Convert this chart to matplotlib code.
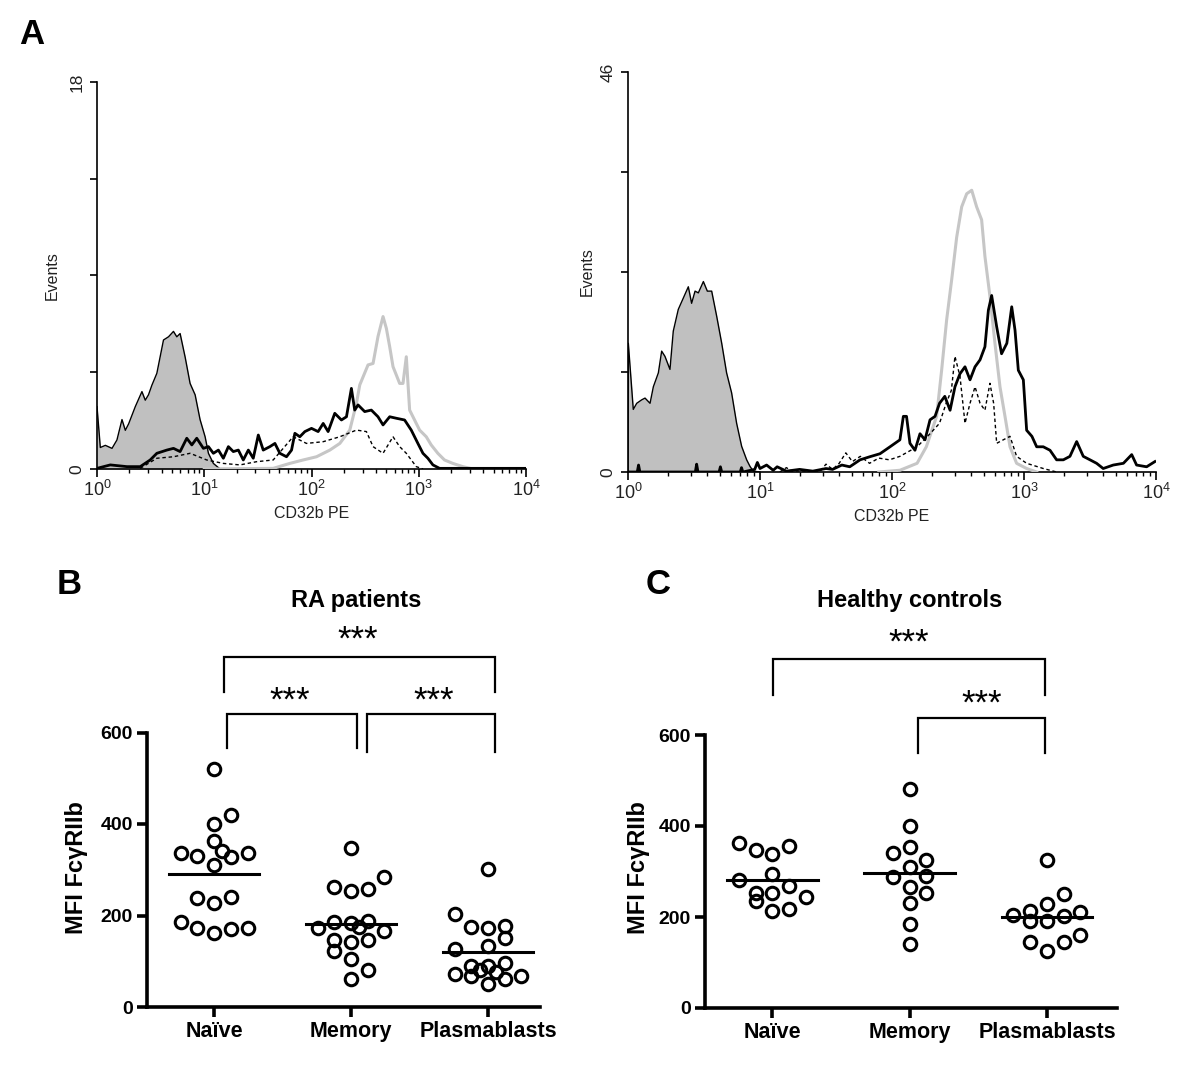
import matplotlib
matplotlib.use('Agg')
import matplotlib.pyplot as plt
import numpy as np

plt.rcParams['font.family'] = ['Liberation Sans', 'DejaVu Sans']
plt.rcParams['mathtext.fontset'] = 'custom'
plt.rcParams['mathtext.rm'] = 'Liberation Sans'

# ---------------- panel A data (x = log10 CD32b PE, y = events) ----------------
# left histogram
la_iso_x = [0.0, 0.031, 0.078, 0.14, 0.186, 0.233, 0.264, 0.295, 0.357, 0.419, 0.45, 0.48, 0.512,
            0.558, 0.62, 0.667, 0.713, 0.744, 0.775, 0.822, 0.868, 0.915, 0.961, 1.008, 1.039,
            1.085, 1.147, 1.2]
la_iso_y = [2.9, 1.0, 1.1, 0.96, 1.35, 2.3, 1.8, 2.1, 2.9, 3.6, 3.2, 3.45, 3.9, 4.45, 6.0, 6.15,
            6.4, 6.15, 6.3, 5.2, 3.98, 3.45, 2.3, 1.5, 0.73, 0.26, 0.0, 0.0]
la_blk_x = [0.0, 0.124, 0.279, 0.403, 0.496, 0.558, 0.651, 0.713, 0.775, 0.837, 0.884, 0.93, 0.992,
            1.039, 1.085, 1.132, 1.178, 1.225, 1.271, 1.318, 1.364, 1.411, 1.457, 1.504, 1.55,
            1.612, 1.659, 1.705, 1.767, 1.814, 1.845, 1.891, 1.938, 2.0, 2.062, 2.109, 2.155,
            2.217, 2.279, 2.326, 2.372, 2.403, 2.434, 2.496, 2.558, 2.62, 2.667, 2.729, 2.791,
            2.868, 2.93, 2.992, 3.039, 3.085, 3.132, 3.194, 4.0]
la_blk_y = [0.03, 0.19, 0.11, 0.11, 0.42, 0.73, 0.88, 0.96, 0.81, 1.43, 1.12, 1.43, 0.96, 1.04,
            0.73, 0.88, 0.5, 1.04, 0.81, 0.88, 0.42, 0.88, 0.5, 1.58, 0.88, 1.04, 1.19, 0.73, 0.57,
            0.88, 1.66, 1.5, 1.74, 1.89, 1.74, 2.12, 1.74, 2.59, 2.28, 2.43, 3.75, 2.74, 2.98, 2.67,
            2.74, 2.43, 2.05, 2.43, 2.36, 2.28, 1.81, 1.19, 0.73, 0.5, 0.19, 0.03, 0.03]
la_gry_x = [1.0, 1.643, 1.798, 1.922, 2.047, 2.171, 2.264, 2.357, 2.419, 2.45, 2.527, 2.574, 2.62,
            2.667, 2.698, 2.729, 2.76, 2.822, 2.853, 2.884, 2.915, 2.961, 3.008, 3.07, 3.116,
            3.178, 3.24, 3.318, 3.411, 3.504]
la_gry_y = [0.0, 0.03, 0.26, 0.42, 0.57, 0.88, 1.19, 1.81, 3.05, 3.91, 4.84, 4.91, 6.16, 7.09,
            6.54, 5.69, 4.76, 3.98, 3.98, 5.22, 2.74, 2.28, 1.81, 1.5, 1.12, 0.73, 0.42, 0.26,
            0.11, 0.0]
la_dsh_x = [0.403, 0.558, 0.713, 0.868, 1.023, 1.178, 1.333, 1.488, 1.643, 1.829, 1.953, 2.109,
            2.264, 2.419, 2.512, 2.574, 2.667, 2.76, 2.822, 2.884, 2.977, 3.04]
la_dsh_y = [0.03, 0.5, 0.57, 0.73, 0.42, 0.26, 0.19, 0.34, 0.42, 1.5, 1.19, 1.27, 1.5, 1.81, 1.74,
            1.04, 0.73, 1.5, 1.04, 0.73, 0.11, 0.0]

# right histogram
ra_iso_x = [0.0, 0.0025, 0.04, 0.066, 0.104, 0.129, 0.167, 0.192, 0.23, 0.255, 0.28, 0.318, 0.343,
            0.381, 0.419, 0.457, 0.482, 0.508, 0.533, 0.571, 0.601, 0.634, 0.672, 0.71, 0.747,
            0.785, 0.823, 0.861, 0.899, 0.924, 0.949, 1.0]
ra_iso_y = [0.0, 14.8, 7.2, 7.9, 8.3, 8.5, 7.9, 9.8, 11.4, 13.9, 13.3, 11.8, 16.2, 18.7, 20.0,
            21.3, 19.4, 20.8, 20.6, 21.9, 20.8, 20.8, 17.9, 14.8, 11.4, 9.1, 5.6, 2.95, 1.4, 0.65,
            0.1, 0.0]
ra_gry_x = [1.9, 2.06, 2.19, 2.26, 2.338, 2.376, 2.414, 2.452, 2.49, 2.528, 2.566, 2.604, 2.641,
            2.679, 2.704, 2.742, 2.78, 2.818, 2.856, 2.894, 2.944, 3.02, 3.096]
ra_gry_y = [0.0, 0.2, 1.0, 2.9, 6.4, 11.7, 17.5, 22.1, 27.0, 30.5, 32.0, 32.4, 30.5, 29.0, 24.8,
            20.2, 14.8, 9.8, 6.4, 2.9, 1.0, 0.4, 0.0]
ra_blk_x = [0.0, 0.07, 0.08, 0.09, 0.51, 0.52, 0.53, 0.69, 0.7, 0.71, 0.85, 0.86, 0.87, 0.96, 0.98,
            1.0, 1.05, 1.1, 1.13, 1.2, 1.3, 1.4, 1.5, 1.55, 1.62, 1.68, 1.758, 1.833, 1.909, 1.985,
            2.06, 2.086, 2.11, 2.136, 2.174, 2.212, 2.25, 2.288, 2.326, 2.36, 2.4, 2.44, 2.477,
            2.515, 2.553, 2.591, 2.629, 2.667, 2.704, 2.73, 2.755, 2.793, 2.83, 2.87, 2.907,
            2.932, 2.957, 2.995, 3.02, 3.06, 3.096, 3.146, 3.197, 3.247, 3.298, 3.348, 3.399,
            3.449, 3.5, 3.55, 3.6, 3.676, 3.753, 3.816, 3.853, 3.929, 3.992]
ra_blk_y = [0.0, 0.0, 0.8, 0.0, 0.0, 0.9, 0.0, 0.0, 0.6, 0.0, 0.0, 0.5, 0.0, 0.3, 1.1, 0.4, 0.8,
            0.2, 0.6, 0.1, 0.3, 0.1, 0.4, 0.3, 0.8, 0.6, 1.4, 1.76, 2.1, 2.9, 3.7, 6.4, 6.4, 3.3,
            2.5, 4.4, 3.7, 6.0, 6.4, 7.9, 8.7, 7.1, 9.8, 11.3, 12.1, 10.6, 12.1, 12.9, 14.4, 18.6,
            20.3, 16.7, 13.6, 14.8, 19.0, 16.3, 11.7, 10.6, 4.8, 4.1, 2.9, 2.9, 2.5, 1.4, 1.4, 1.8,
            3.5, 1.8, 1.4, 1.0, 0.4, 0.8, 1.0, 2.0, 0.8, 0.6, 1.2]
ra_dsh_x = [1.15, 1.2, 1.25, 1.45, 1.5, 1.55, 1.6, 1.65, 1.7, 1.76, 1.83, 1.9, 1.98, 2.06, 2.19,
            2.288, 2.36, 2.41, 2.45, 2.477, 2.515, 2.553, 2.591, 2.629, 2.667, 2.704, 2.742, 2.77,
            2.793, 2.843, 2.894, 2.944, 3.02, 3.146, 3.247]
ra_dsh_y = [0.0, 0.5, 0.0, 0.0, 0.9, 0.3, 1.0, 2.2, 1.2, 1.8, 1.0, 1.6, 1.4, 1.8, 2.9, 4.4, 5.6,
            7.9, 9.4, 13.3, 11.0, 5.6, 7.9, 9.8, 7.9, 7.1, 10.2, 7.9, 3.3, 3.7, 4.1, 1.8, 1.0, 0.4,
            0.0]

# ---------------- panels B / C data (MFI FcgRIIb) ----------------
groups = ['Naïve', 'Memory', 'Plasmablasts']

b_naive = [521, 419, 400, 363, 336, 330, 340, 327, 336, 311, 238, 241, 228, 186, 172, 161, 170, 173]
b_naive_slot = [0, 1, 0, 0, -2, -1, 0.5, 1, 2, 0, -1, 1, 0, -2, -1, 0, 1, 2]
b_memory = [347, 285, 263, 254, 258, 173, 186, 184, 175, 189, 166, 146, 141, 146, 122, 105, 80, 61]
b_memory_slot = [0, 2, -1, 0, 1, -2, -1, 0, 0.5, 1, 2, -1, 0, 1, -1, 0, 1, 0]
b_plasma = [302, 203, 174, 172, 178, 150, 133, 127, 90, 90, 97, 73, 67, 80, 77, 62, 68, 51]
b_plasma_slot = [0, -2, -1, 0, 1, 1, 0, -2, -1, 0, 1, -2, -1, -0.5, 0.5, 1, 2, 0]
b_medians = [291, 181, 121]

c_naive = [362, 347, 338, 355, 281, 294, 252, 235, 252, 269, 244, 214, 217]
c_naive_slot = [-2, -1, 0, 1, -2, 0, -1, -1, 0, 1, 2, 0, 1]
c_memory = [481, 401, 340, 353, 325, 310, 288, 290, 266, 253, 230, 184, 141]
c_memory_slot = [0, 0, -1, 0, 1, 0, -1, 1, 0, 1, 0, 0, 0]
c_plasma = [325, 250, 228, 214, 204, 191, 191, 203, 210, 145, 145, 160, 126]
c_plasma_slot = [0, 1, 0, -1, -2, -1, 0, 1, 2, -1, 1, 2, 0]
c_medians = [281, 297, 199]

fig = plt.figure(figsize=(12, 10.76), dpi=100)
W, H = 1200.0, 1076.0


def px_axes(x0, y0, x1, y1):
    # axes from pixel box (left, top, right, bottom)
    return fig.add_axes([x0 / W, 1 - y1 / H, (x1 - x0) / W, (y1 - y0) / H])


def histo(ax, ymax, iso, gry, dsh, blk, ylab_x):
    ax.fill_between(iso[0], iso[1], color='#c0c0c0', lw=0, zorder=1)
    ax.plot(iso[0], iso[1], color='black', lw=1.0, zorder=2)
    ax.plot(gry[0], gry[1], color='#c6c6c6', lw=2.2, zorder=3)
    ax.plot(dsh[0], dsh[1], color='black', lw=1.0, ls=(0, (2.5, 2)), zorder=4)
    ax.plot(blk[0], blk[1], color='black', lw=2.0, zorder=5)
    ax.set_xlim(0, 4)
    ax.set_ylim(0, ymax)
    for s in ['top', 'right']:
        ax.spines[s].set_visible(False)
    for s in ['left', 'bottom']:
        ax.spines[s].set_linewidth(1.2)
    ax.set_xticks(range(5))
    ax.set_xticklabels(['$10^{%d}$' % k for k in range(5)], fontsize=13, color='#222222')
    ax.set_xticks([k + np.log10(m) for k in range(4) for m in range(2, 10)], minor=True)
    ax.set_yticks([0, ymax])
    ax.set_yticklabels(['0', str(ymax)], rotation=90, va='center', fontsize=12.5, color='#222222')
    ax.set_yticks([ymax * q / 4 for q in (1, 2, 3)], minor=True)
    ax.tick_params(axis='x', which='major', length=6, width=1.2, pad=2)
    ax.tick_params(axis='x', which='minor', length=3, width=1.0)
    ax.tick_params(axis='y', which='both', length=5, width=1.2, pad=4)
    ax.set_xlabel('CD32b PE', fontsize=11.5, color='#222222', labelpad=4)
    ax.set_ylabel('Events', fontsize=11.5, color='#222222')
    ax.yaxis.set_label_coords(ylab_x, 0.5)


ax1 = px_axes(97, 82, 526, 469)
histo(ax1, 18, (la_iso_x, la_iso_y), (la_gry_x, la_gry_y), (la_dsh_x, la_dsh_y),
      (la_blk_x, la_blk_y), -0.086)
ax2 = px_axes(628, 72, 1156, 472)
histo(ax2, 46, (ra_iso_x, ra_iso_y), (ra_gry_x, ra_gry_y), (ra_dsh_x, ra_dsh_y),
      (ra_blk_x, ra_blk_y), -0.063)

SLOT = 0.122


def dotplot(ax, vals, slots, medians, xmax):
    for i, (v, s) in enumerate(zip(vals, slots)):
        xs = i + SLOT * np.array(s, dtype=float)
        ax.plot(xs, v, 'o', ms=9, mfc='none', mec='black', mew=2.2, clip_on=False, zorder=3)
        ax.plot([i - 0.33, i + 0.33], [medians[i], medians[i]], color='black', lw=2.2, zorder=2)
    ax.set_ylim(0, 600)
    ax.set_xlim(-0.49, xmax)
    for s in ['top', 'right']:
        ax.spines[s].set_visible(False)
    for s in ['left', 'bottom']:
        ax.spines[s].set_linewidth(2.6)
    ax.set_yticks([0, 200, 400, 600])
    ax.set_yticklabels(['0', '200', '400', '600'], fontsize=14, fontweight='bold')
    ax.set_xticks(range(3))
    ax.set_xticklabels(groups, fontsize=15.5, fontweight='bold')
    ax.tick_params(axis='both', length=7, width=2.6, pad=3)


def bracket(ax, x0, x1, ytop, yb0, yb1, stars_x, stars_y):
    ax.plot([x0, x0, x1, x1], [yb0, ytop, ytop, yb1], color='black', lw=1.6, clip_on=False,
            solid_joinstyle='miter')
    ax.text(stars_x, stars_y, '***', ha='center', va='center', fontsize=25)


ax3 = px_axes(147, 732.5, 540, 1007)
dotplot(ax3, [b_naive, b_memory, b_plasma], [b_naive_slot, b_memory_slot, b_plasma_slot],
        b_medians, 2.38)
bracket(ax3, 0.073, 2.05, 765, 689, 689, 1.05, 803)
bracket(ax3, 0.095, 1.044, 640, 566, 566, 0.55, 668)
bracket(ax3, 1.117, 2.05, 640, 557, 557, 1.6, 668)

ax4 = px_axes(705, 735, 1117, 1008)
dotplot(ax4, [c_naive, c_memory, c_plasma], [c_naive_slot, c_memory_slot, c_plasma_slot],
        c_medians, 2.51)
bracket(ax4, 0.007, 1.985, 767, 688, 688, 0.99, 803)
bracket(ax4, 1.058, 1.985, 637, 560, 560, 1.526, 667)

fig.text(77 / W, 1 - 868 / H, 'MFI FcγRIIb', rotation=90, ha='center', va='center',
         fontsize=17, fontweight='bold')
fig.text(639 / W, 1 - 868 / H, 'MFI FcγRIIb', rotation=90, ha='center', va='center',
         fontsize=17, fontweight='bold')

fig.text(356 / W, 1 - 601 / H, 'RA patients', ha='center', va='center', fontsize=17,
         fontweight='bold')
fig.text(910 / W, 1 - 601 / H, 'Healthy controls', ha='center', va='center', fontsize=17,
         fontweight='bold')

fig.text(19 / W, 1 - 35 / H, 'A', ha='left', va='center', fontsize=25, fontweight='bold')
fig.text(57 / W, 1 - 585 / H, 'B', ha='left', va='center', fontsize=25, fontweight='bold')
fig.text(646 / W, 1 - 585 / H, 'C', ha='left', va='center', fontsize=25, fontweight='bold')

fig.savefig('out.png', dpi=100)
